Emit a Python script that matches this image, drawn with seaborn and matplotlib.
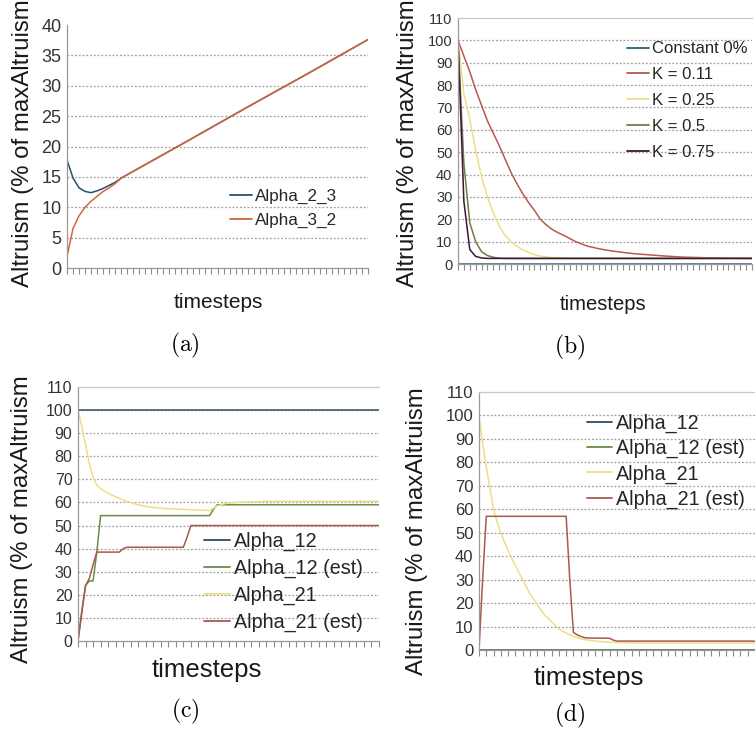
import seaborn as sns
import matplotlib.pyplot as plt
import pandas as pd

# ---- panel (a) ----
a_t = [0, 1, 2, 3, 4, 5, 6, 7, 8, 9, 20, 30, 40, 50]
alpha_2_3 = [17.8, 14.8, 13.2, 12.6, 12.4, 12.7, 13.1, 13.6, 14.1, 14.8, 20.9, 26.5, 32.0, 37.6]
alpha_3_2 = [1.9, 6.5, 8.6, 10.0, 11.0, 11.8, 12.6, 13.2, 13.9, 14.8, 20.9, 26.5, 32.0, 37.6]

# ---- panel (b) ----
b_const_t = [0, 50]
b_const = [0, 0]
b_k011_t = [0, 1, 2, 3, 4, 5, 6, 7, 8, 9, 10, 11, 12, 13, 14, 15, 16, 17, 18, 20, 22, 24, 26, 28, 30, 32, 35, 38, 42, 46, 50]
b_k011 = [100, 93, 86, 78, 71, 64, 58.5, 53, 47, 41, 36, 31.5, 27.5, 24, 20, 17.5, 15.5, 14, 12.8, 10, 8, 6.8, 5.9, 5.2, 4.6, 4.2, 3.6, 3.1, 2.8, 2.6, 2.5]
b_k025_t = [0, 1, 2, 3, 4, 5, 6, 7, 8, 9, 10, 11, 12, 13, 14, 16, 18, 20, 50]
b_k025 = [100, 76, 65, 51, 39, 30, 23, 17, 12.8, 10, 8, 6.3, 5.2, 4.2, 3.5, 2.9, 2.6, 2.5, 2.5]
b_k05_t = [0, 1, 2, 3, 4, 5, 6, 7, 8, 50]
b_k05 = [100, 45, 18.5, 10, 5.5, 3.8, 3.0, 2.6, 2.5, 2.5]
b_k075_t = [0, 1, 2, 3, 4, 5, 50]
b_k075 = [100, 28, 6.5, 3.4, 2.7, 2.5, 2.5]

# ---- panel (c) ----
c_a12_t = [0, 80]
c_a12 = [100, 100]
c_a12e_t = [0, 1, 2, 3, 4, 5, 6, 35, 36, 37, 80]
c_a12e = [0, 13, 24, 26, 26, 38.5, 54.3, 54.3, 57, 59, 59]
c_a21_t = [0, 1, 2, 3, 4, 5, 6, 8, 10, 12, 14, 16, 18, 20, 24, 28, 32, 35, 37, 39, 42, 50, 80]
c_a21 = [100, 93, 85, 77, 71, 67.5, 66, 64, 62.5, 61, 60, 59, 58.3, 57.8, 57.3, 57, 56.7, 56.5, 58.5, 59.5, 60, 60.5, 60.5]
c_a21e_t = [0, 1, 2, 3, 4, 5, 11, 12, 13, 28, 29, 30, 80]
c_a21e = [0, 12, 24, 27, 33, 38.5, 38.5, 40, 40.6, 40.6, 45, 50, 50]

# ---- panel (d) ----
d_a12_t = [0, 76]
d_a12 = [0, 0]
d_a12e_t = [0, 76]
d_a12e = [0, 0]
d_a21_t = [0, 1, 2, 3, 4, 5, 6, 7, 8, 10, 12, 14, 16, 18, 20, 22, 24, 26, 28, 30, 34, 38, 44, 50, 76]
d_a21 = [100, 88, 78, 69, 60, 54.5, 50, 46, 42.5, 36, 30, 24, 19.5, 15, 12, 9, 7.2, 5.8, 4.8, 4.2, 3.5, 3.2, 3.0, 3.0, 3.0]
d_a21e_t = [0, 1, 2, 24, 25, 26, 27, 28, 29, 30, 36, 37, 38, 76]
d_a21e = [0, 30, 57, 57, 30, 7.5, 6.5, 5.8, 5.3, 5.1, 5.0, 4.2, 3.8, 3.8]

NAVY = '#2c4b63'
OLIVE = '#6b8b47'
YELLOW = '#ecdf86'
BROWN = '#a85a4e'

W, H = 755, 731


def fx(px):
    return px / W


def fy(py):
    return 1 - py / H


def panel(rect_px, series, palette, ylim, ystep, xmax, xstep, tick_fs,
          leg_xy, leg_fs, leg_spacing, top_spine=True):
    l, t, r, b = rect_px
    ax = fig.add_axes([fx(l), fy(b), (r - l) / W, (b - t) / H])
    frames = [pd.DataFrame({'t': tt, 'v': vv, 'series': name})
              for name, (tt, vv) in series.items()]
    df = pd.concat(frames, ignore_index=True)
    sns.lineplot(data=df, x='t', y='v', hue='series', hue_order=list(series),
                 palette=palette, lw=1.1, estimator=None, sort=False, ax=ax)
    ax.set_xlim(0, xmax)
    ax.set_ylim(*ylim)
    yt = list(range(ylim[0], ylim[1] + 1, ystep))
    ax.set_yticks(yt)
    ax.set_xticks(range(0, xmax + 1, xstep))
    ax.set_xticklabels([])
    ax.set_xlabel('')
    ax.set_ylabel('')
    for y in yt[1:]:
        if y < ylim[1]:
            ax.axhline(y, color='#a0a0a0', lw=0.9, ls=(0, (1.5, 1.5)), zorder=0.5)
    ax.tick_params(axis='x', bottom=True, direction='out', length=4, width=0.8,
                   color='#8c8c8c')
    ax.tick_params(axis='y', left=False, length=0, pad=4, labelsize=tick_fs,
                   labelcolor='#333333')
    for s in ['left', 'bottom']:
        ax.spines[s].set_color('#9a9a9a')
        ax.spines[s].set_linewidth(0.9)
    ax.spines['right'].set_visible(False)
    if top_spine:
        ax.spines['top'].set_color('#c8c8c8')
        ax.spines['top'].set_linewidth(0.9)
    else:
        ax.spines['top'].set_visible(False)

    old = ax.get_legend()
    handles = old.legend_handles
    labels = [tx.get_text() for tx in old.get_texts()]
    old.remove()
    for h in handles:
        h.set_linewidth(1.3)
    ax.legend(handles, labels, loc='upper left', bbox_to_anchor=leg_xy,
              frameon=False, fontsize=leg_fs, handlelength=1.3,
              handletextpad=0.2, labelspacing=leg_spacing,
              borderpad=0, borderaxespad=0)
    return ax


sns.set_theme(style='white')
plt.rcParams['font.family'] = ['Liberation Sans', 'DejaVu Sans']
plt.rcParams['mathtext.fontset'] = 'cm'

fig = plt.figure(figsize=(W / 100, H / 100), dpi=100)
fig.patch.set_facecolor('white')

# (a)
panel((67, 25, 368, 268),
      {'Alpha_2_3': (a_t, alpha_2_3), 'Alpha_3_2': (a_t, alpha_3_2)},
      {'Alpha_2_3': '#27506a', 'Alpha_3_2': '#d4653e'},
      (0, 40), 5, 50, 1, 13, (0.54, 0.325), 12.3, 0.5, top_spine=False)

# (b)
panel((458, 18, 752, 264),
      {'Constant 0%': (b_const_t, b_const), 'K = 0.11': (b_k011_t, b_k011),
       'K = 0.25': (b_k025_t, b_k025), 'K = 0.5': (b_k05_t, b_k05),
       'K = 0.75': (b_k075_t, b_k075)},
      {'Constant 0%': '#2f5f7a', 'K = 0.11': '#b8584f', 'K = 0.25': YELLOW,
       'K = 0.5': '#6e7c4c', 'K = 0.75': '#3c1634'},
      (0, 110), 10, 50, 1, 10.5, (0.575, 0.905), 12, 0.65)

# (c)
panel((78, 387, 379, 641),
      {'Alpha_12': (c_a12_t, c_a12), 'Alpha_12 (est)': (c_a12e_t, c_a12e),
       'Alpha_21': (c_a21_t, c_a21), 'Alpha_21 (est)': (c_a21e_t, c_a21e)},
      {'Alpha_12': NAVY, 'Alpha_12 (est)': OLIVE, 'Alpha_21': YELLOW,
       'Alpha_21 (est)': BROWN},
      (0, 110), 10, 80, 2, 11.5, (0.42, 0.43), 14.2, 0.4)

# (d)
panel((479, 392, 755, 650),
      {'Alpha_12': (d_a12_t, d_a12), 'Alpha_12 (est)': (d_a12e_t, d_a12e),
       'Alpha_21': (d_a21_t, d_a21), 'Alpha_21 (est)': (d_a21e_t, d_a21e)},
      {'Alpha_12': NAVY, 'Alpha_12 (est)': OLIVE, 'Alpha_21': YELLOW,
       'Alpha_21 (est)': BROWN},
      (0, 110), 10, 76, 2, 12, (0.39, 0.915), 14.2, 0.3)

ylab = 'Altruism (% of maxAltruism'
for x, yb in [(23, 287), (408, 287), (22, 663), (417, 675)]:
    fig.text(fx(x), fy(yb), ylab, rotation=90, ha='center', va='bottom',
             fontsize=17.3, color='#1a1a1a')

for x, y, fs in [(218, 302, 15), (603, 305, 14.6), (207, 670, 18.5), (589, 678, 18.5)]:
    fig.text(fx(x), fy(y), 'timesteps', ha='center', va='center', fontsize=fs,
             color='#1a1a1a')

for x, y, s in [(185, 345, 'a'), (570, 347, 'b'), (185, 711, 'c'), (570, 715, 'd')]:
    fig.text(fx(x), fy(y), r'$\mathrm{(' + s + r')}$', ha='center', va='center',
             fontsize=17, color='black')

fig.savefig('out.png', dpi=100)
